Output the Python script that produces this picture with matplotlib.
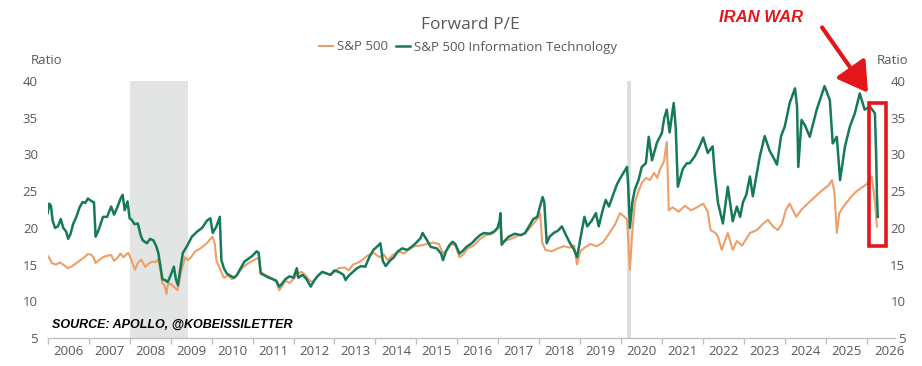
import matplotlib
matplotlib.use("Agg")
import matplotlib.pyplot as plt
from matplotlib.patches import Rectangle

# ---------------- data (decimal years, forward P/E ratio) ----------------
spx_t = [2006.00, 2006.05, 2006.10, 2006.20, 2006.30, 2006.40, 2006.50, 2006.60, 2006.70, 2006.80, 2006.90, 2006.97,
         2007.05, 2007.12, 2007.17, 2007.25, 2007.35, 2007.45, 2007.55, 2007.62, 2007.70, 2007.78, 2007.85, 2007.92, 2007.97,
         2008.05, 2008.13, 2008.20, 2008.28, 2008.38, 2008.48, 2008.55, 2008.62, 2008.70, 2008.76, 2008.80, 2008.85, 2008.90, 2008.93,
         2009.00, 2009.08, 2009.17, 2009.25, 2009.35, 2009.42, 2009.50, 2009.60, 2009.70, 2009.80, 2009.90,
         2010.02, 2010.08, 2010.12, 2010.20, 2010.30, 2010.40, 2010.50, 2010.60, 2010.70, 2010.80, 2010.90,
         2011.00, 2011.10, 2011.15, 2011.20, 2011.30, 2011.40, 2011.50, 2011.58, 2011.65, 2011.72, 2011.80, 2011.90,
         2012.00, 2012.10, 2012.20, 2012.30, 2012.40, 2012.48, 2012.58, 2012.70, 2012.80, 2012.90,
         2013.00, 2013.10, 2013.25, 2013.35, 2013.45, 2013.55, 2013.65, 2013.80, 2013.95,
         2014.10, 2014.20, 2014.30, 2014.40, 2014.55, 2014.70, 2014.80, 2014.95,
         2015.10, 2015.25, 2015.40, 2015.55, 2015.65, 2015.75, 2015.85, 2015.95,
         2016.05, 2016.15, 2016.25, 2016.40, 2016.55, 2016.70, 2016.85, 2016.97,
         2017.05, 2017.10, 2017.20, 2017.35, 2017.50, 2017.65, 2017.80, 2017.95,
         2018.02, 2018.07, 2018.15, 2018.30, 2018.45, 2018.60, 2018.75, 2018.85, 2018.92,
         2019.00, 2019.10, 2019.25, 2019.40, 2019.55, 2019.70, 2019.85, 2019.97,
         2020.08, 2020.14, 2020.21, 2020.27, 2020.33, 2020.42, 2020.50, 2020.60, 2020.70, 2020.80, 2020.88, 2020.94,
         2021.04, 2021.11, 2021.16, 2021.25, 2021.40, 2021.55, 2021.70, 2021.85,
         2022.00, 2022.11, 2022.18, 2022.30, 2022.36, 2022.45, 2022.60, 2022.72, 2022.82, 2022.95,
         2023.14, 2023.31, 2023.45, 2023.58, 2023.70, 2023.82, 2023.92,
         2024.02, 2024.11, 2024.27, 2024.40, 2024.55, 2024.74, 2024.92,
         2025.06, 2025.14, 2025.20, 2025.26, 2025.32, 2025.42, 2025.55, 2025.65, 2025.75, 2025.90,
         2026.00, 2026.11, 2026.16, 2026.20, 2026.24]
spx_v = [16.2, 15.8, 15.2, 15.0, 15.3, 14.9, 14.5, 14.8, 15.2, 15.6, 16.0, 16.4,
         16.4, 16.0, 15.2, 15.6, 16.0, 16.2, 16.3, 15.5, 15.9, 16.5, 16.0, 16.4, 16.6,
         15.5, 14.3, 15.2, 15.7, 14.7, 15.2, 15.4, 15.3, 15.7, 14.0, 12.4, 12.2, 11.0, 12.2,
         12.4, 12.0, 11.5, 13.8, 16.0, 15.6, 16.0, 16.8, 17.1, 17.5, 18.0,
         18.8, 17.8, 15.5, 14.5, 13.2, 13.5, 13.0, 13.4, 14.2, 14.8, 15.2,
         15.5, 15.8, 15.9, 14.0, 13.6, 13.4, 13.0, 12.6, 11.5, 12.0, 12.8, 12.5,
         13.0, 13.8, 14.0, 13.5, 12.8, 12.6, 13.4, 14.0, 13.8, 13.6,
         14.0, 14.5, 14.6, 14.2, 15.0, 15.2, 15.5, 16.2, 16.6,
         16.0, 16.4, 15.6, 16.2, 16.8, 16.5, 17.0, 17.5,
         17.6, 17.8, 18.0, 17.8, 16.5, 17.0, 17.8, 17.6,
         16.0, 16.4, 17.2, 17.6, 18.5, 19.0, 19.2, 19.8,
         20.4, 18.0, 18.3, 18.6, 19.0, 19.2, 20.2, 21.2,
         22.0, 18.0, 17.0, 16.8, 17.2, 17.5, 17.3, 17.6, 15.0,
         16.8, 17.3, 17.8, 17.5, 18.0, 19.2, 20.5, 22.0,
         21.5, 21.1, 14.3, 19.5, 23.4, 25.0, 26.1, 26.8, 26.5, 27.5, 26.8, 27.9,
         29.0, 31.7, 22.4, 22.8, 22.2, 23.0, 22.4, 22.8,
         23.3, 22.2, 19.7, 19.3, 18.8, 17.0, 19.3, 17.0, 18.2, 17.6,
         19.3, 19.7, 20.5, 21.1, 20.2, 19.7, 20.5,
         22.5, 23.3, 21.5, 22.5, 23.3, 24.3, 25.2,
         25.8, 26.5, 25.0, 19.3, 22.0, 22.9, 23.8, 24.5, 25.0, 25.6,
         26.0, 27.0, 25.0, 22.9, 20.2]

tech_t = [2006.00, 2006.04, 2006.08, 2006.12, 2006.18, 2006.25, 2006.32, 2006.38, 2006.45, 2006.50, 2006.56, 2006.62,
          2006.70, 2006.78, 2006.85, 2006.92, 2006.98,
          2007.08, 2007.13, 2007.17, 2007.25, 2007.35, 2007.45, 2007.55, 2007.62, 2007.70, 2007.78, 2007.83, 2007.88, 2007.95,
          2008.00, 2008.05, 2008.12, 2008.20, 2008.27, 2008.32, 2008.42, 2008.50, 2008.58, 2008.65, 2008.70,
          2008.76, 2008.80, 2008.86, 2008.93,
          2009.00, 2009.08, 2009.13, 2009.18, 2009.24, 2009.30, 2009.40, 2009.52, 2009.65, 2009.77, 2009.89, 2009.97,
          2010.03, 2010.12, 2010.20, 2010.24, 2010.30, 2010.37, 2010.45, 2010.55, 2010.62, 2010.72, 2010.80, 2010.90,
          2011.00, 2011.10, 2011.15, 2011.20, 2011.30, 2011.40, 2011.50, 2011.58, 2011.65, 2011.72, 2011.80, 2011.90,
          2012.00, 2012.08, 2012.12, 2012.22, 2012.32, 2012.42, 2012.50, 2012.60, 2012.70, 2012.80, 2012.90,
          2013.00, 2013.10, 2013.22, 2013.27, 2013.35, 2013.45, 2013.55, 2013.65, 2013.75, 2013.85, 2013.95,
          2014.05, 2014.12, 2014.18, 2014.25, 2014.35, 2014.45, 2014.55, 2014.65, 2014.78, 2014.90,
          2015.00, 2015.10, 2015.15, 2015.25, 2015.35, 2015.50, 2015.60, 2015.65, 2015.72, 2015.80, 2015.88, 2015.95,
          2016.05, 2016.12, 2016.22, 2016.35, 2016.45, 2016.55, 2016.65, 2016.78, 2016.90, 2016.98,
          2017.03, 2017.05, 2017.08, 2017.15, 2017.25, 2017.40, 2017.55, 2017.65, 2017.78, 2017.85, 2017.95,
          2018.02, 2018.08, 2018.12, 2018.18, 2018.25, 2018.35, 2018.45, 2018.55, 2018.65, 2018.75, 2018.85, 2018.92,
          2019.00, 2019.10, 2019.17, 2019.28, 2019.38, 2019.45, 2019.55, 2019.62, 2019.70, 2019.80, 2019.90,
          2020.00, 2020.14, 2020.17, 2020.21, 2020.27, 2020.33, 2020.42, 2020.50, 2020.60, 2020.67, 2020.75, 2020.87, 2020.99,
          2021.05, 2021.11, 2021.18, 2021.24, 2021.28, 2021.33, 2021.38, 2021.50, 2021.60, 2021.67, 2021.80, 2021.91,
          2022.00, 2022.11, 2022.23, 2022.28, 2022.36, 2022.48, 2022.60, 2022.72, 2022.82, 2022.90, 2022.97,
          2023.05, 2023.14, 2023.21, 2023.38, 2023.50, 2023.62, 2023.72, 2023.80, 2023.90, 2023.99,
          2024.11, 2024.24, 2024.29, 2024.32, 2024.40, 2024.48, 2024.60, 2024.77, 2024.96,
          2025.09, 2025.16, 2025.26, 2025.34, 2025.46, 2025.58, 2025.70, 2025.82, 2025.94,
          2026.07, 2026.19, 2026.22, 2026.24, 2026.26]
tech_v = [22.0, 23.3, 23.0, 21.0, 20.0, 20.2, 21.2, 20.0, 19.5, 18.5, 19.2, 20.5,
          21.5, 22.8, 23.5, 23.4, 24.0,
          23.6, 23.5, 18.8, 19.8, 21.5, 21.5, 22.9, 21.8, 22.8, 24.0, 24.5, 22.4, 23.6,
          21.3, 21.1, 20.5, 20.6, 19.0, 18.3, 17.9, 18.5, 18.3, 17.5, 16.6,
          14.5, 13.0, 12.9, 12.6,
          13.5, 14.7, 13.0, 12.2, 14.5, 16.6, 17.5, 18.8, 19.5, 20.0, 21.0, 21.3,
          19.3, 20.2, 21.5, 15.6, 14.5, 13.8, 13.5, 13.2, 13.6, 14.6, 15.4, 15.8,
          16.2, 16.8, 16.6, 13.8, 13.5, 13.2, 13.0, 12.8, 12.0, 12.4, 13.0, 13.4,
          13.2, 14.5, 13.2, 13.6, 13.0, 12.0, 12.8, 13.5, 14.0, 13.8, 13.6,
          14.2, 14.0, 13.6, 12.9, 13.5, 14.0, 14.5, 14.8, 14.7, 16.0, 17.0,
          17.5, 17.9, 15.5, 14.8, 15.5, 16.0, 16.8, 17.2, 17.0, 17.5,
          18.0, 18.6, 19.3, 18.4, 17.4, 17.2, 16.5, 15.6, 16.8, 17.6, 18.1, 17.8,
          16.5, 16.8, 17.4, 17.9, 18.5, 19.0, 19.3, 19.2, 19.5, 20.0,
          21.0, 22.0, 17.7, 18.2, 18.8, 19.2, 19.0, 19.3, 20.5, 21.2, 21.5,
          23.0, 24.2, 23.5, 17.9, 18.8, 19.3, 19.6, 20.2, 19.0, 17.9, 17.0, 16.0,
          18.5, 21.5, 20.2, 21.0, 22.0, 20.2, 22.5, 23.8, 22.9, 24.5, 26.0,
          27.0, 28.3, 25.5, 20.0, 23.5, 25.2, 26.5, 28.3, 28.8, 32.4, 29.2, 31.6, 32.9,
          35.0, 36.1, 33.0, 35.5, 37.0, 33.5, 25.6, 28.0, 28.8, 28.8, 29.8, 31.1,
          32.3, 30.2, 31.1, 27.5, 23.4, 20.6, 25.6, 20.9, 22.9, 21.5, 23.5,
          24.5, 27.0, 24.3, 29.7, 32.5, 30.5, 29.5, 28.6, 32.5, 33.8,
          37.0, 39.0, 36.5, 28.3, 34.7, 34.0, 32.4, 36.1, 39.3,
          37.4, 31.5, 32.4, 26.5, 31.1, 33.8, 35.6, 38.3, 36.1,
          36.5, 35.6, 30.0, 24.3, 21.5]

years = list(range(2006, 2027))
y_ticks = [5, 10, 15, 20, 25, 30, 35, 40]
recession = (2008.0, 2009.42)
covid_line = 2020.2

# ---------------- style ----------------
GREEN = "#167a5a"
ORANGE = "#ec9f68"
GRAY_TXT = "#595959"
RED = "#e3161c"
FONT = ["Open Sans", "DejaVu Sans"]
plt.rcParams["font.family"] = FONT

fig = plt.figure(figsize=(9.22, 3.66), dpi=100)
ax = fig.add_axes([0.0517, 0.0765, 0.9190, 0.7022])
ax.set_xlim(2006.0, 2026.68)
ax.set_ylim(5, 40)

ax.axvspan(recession[0], recession[1], color="#e3e4e4", lw=0, zorder=0)
ax.axvline(covid_line, color="#dcdcdc", lw=2.6, zorder=0.5)

ax.plot(spx_t, spx_v, color=ORANGE, lw=1.5, label="S&P 500", zorder=2)
ax.plot(tech_t, tech_v, color=GREEN, lw=1.8, label="S&P 500 Information Technology", zorder=3)

for s in ["top", "left", "right"]:
    ax.spines[s].set_visible(False)
ax.spines["bottom"].set_color("#bfbfbf")
ax.spines["bottom"].set_linewidth(1.0)

ax.set_xticks(years)
ax.set_xticklabels([])
ax.set_xticks([y + 0.5 for y in years[:-1]] + [2026.55], minor=True)
ax.set_xticklabels([str(y) for y in years], minor=True)
ax.tick_params(axis="x", which="major", length=4, color="#bfbfbf", width=1)
ax.tick_params(axis="x", which="minor", length=0, pad=5, labelsize=9.5, labelcolor=GRAY_TXT)

ax.set_yticks(y_ticks)
ax.tick_params(axis="y", length=0, pad=7, labelsize=9.5, labelcolor=GRAY_TXT)

ax2 = ax.twinx()
ax2.set_ylim(5, 40)
ax2.set_yticks(y_ticks)
for s in ["top", "left", "right", "bottom"]:
    ax2.spines[s].set_visible(False)
ax2.tick_params(axis="y", length=0, pad=7.5, labelsize=9.5, labelcolor=GRAY_TXT)
for lab in ax2.get_yticklabels():
    lab.set_horizontalalignment("right")

fig.text(47 / 922, 1 - 61 / 366, "Ratio", ha="center", va="center", fontsize=9.5, color=GRAY_TXT)
fig.text(893 / 922, 1 - 61 / 366, "Ratio", ha="center", va="center", fontsize=9.5, color=GRAY_TXT)

fig.text(470 / 922, 1 - 25 / 366, "Forward P/E", ha="center", va="center", fontsize=12.5, color=GRAY_TXT)
leg = ax.legend(loc="center", bbox_to_anchor=(468 / 922, 1 - 47 / 366), bbox_transform=fig.transFigure,
                ncol=2, frameon=False, fontsize=9.5, handlelength=1.1, handletextpad=0.3, columnspacing=0.6,
                borderpad=0, borderaxespad=0)
for t in leg.get_texts():
    t.set_color(GRAY_TXT)

fig.text(52 / 922, 1 - 325 / 366, "SOURCE: APOLLO, @KOBEISSILETTER", ha="left", va="center",
         fontsize=9, fontweight="bold", fontstyle="italic", color="black", family=["Liberation Sans", "DejaVu Sans"])

# annotation
box = Rectangle((2026.04, 17.5), 0.42, 19.5, fill=False, edgecolor=RED, lw=2.6, clip_on=False, zorder=5)
ax.add_patch(box)
ax.annotate("", xy=(2026.02, 38.4), xytext=(2024.9, 47.3), xycoords="data", textcoords="data",
            annotation_clip=False,
            arrowprops=dict(arrowstyle="-|>,head_length=1.0,head_width=0.6", color=RED, lw=3, mutation_scale=18,
                            shrinkA=0, shrinkB=0))
fig.text(761 / 922, 1 - 18 / 366, "IRAN WAR", ha="center", va="center", fontsize=12, fontweight="bold",
         fontstyle="italic", color=RED, family=["Liberation Sans", "DejaVu Sans"])

fig.savefig("out.png", dpi=100)
